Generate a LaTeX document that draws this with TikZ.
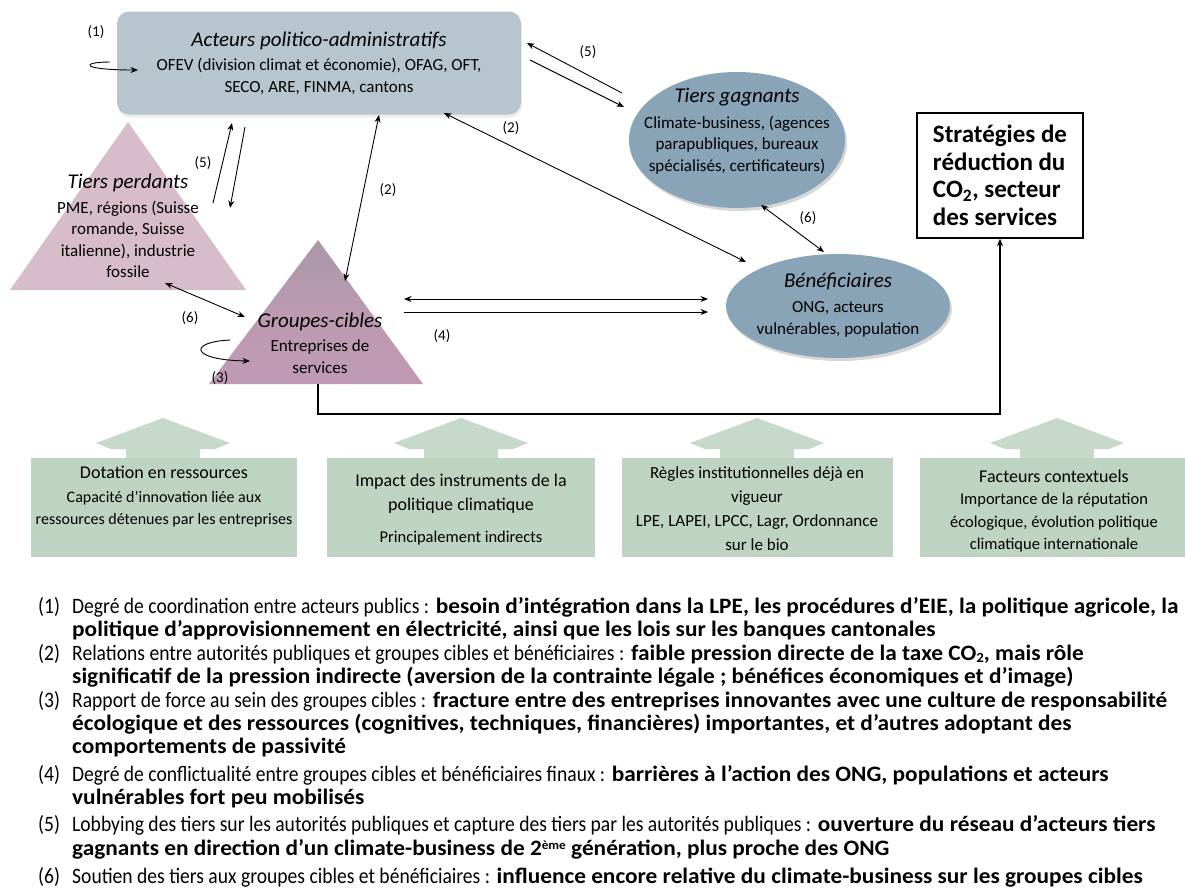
\documentclass[tikz,border=0pt]{standalone}
\usepackage{fontspec}
\setmainfont{Carlito}
\newfontfamily\cond[FakeStretch=0.89]{Carlito}
\newfontfamily\wide[FakeStretch=1.06]{Carlito}
\usetikzlibrary{shapes.geometric,shadows,arrows.meta}

\definecolor{actfill}{RGB}{183,198,206}
\definecolor{ellfill}{RGB}{136,164,182}
\definecolor{perdfill}{RGB}{215,189,201}
\definecolor{grpfill}{RGB}{192,154,180}
\definecolor{grptop}{RGB}{170,152,168}
\definecolor{grnbox}{RGB}{191,211,195}
\definecolor{grnarr}{RGB}{199,217,203}

\newcommand\Ftitle{\fontsize{21}{24}\selectfont\itshape}
\newcommand\Fbody{\fontsize{17}{21.5}\selectfont}
\newcommand\Fleg{\fontsize{22}{23}\selectfont}
\newcommand\Bd{\wide\bfseries}
\newcommand\subtwo{\raisebox{-2.5pt}{\fontsize{14}{14}\selectfont 2}}
\newcommand\supeme{\raisebox{5.5pt}{\fontsize{12.5}{12.5}\selectfont ème}}

\tikzset{
  tip/.tip={Stealth[length=7.5pt,width=6pt]},
  con/.style={line width=0.9pt,-tip},
  dcon/.style={line width=0.9pt,tip-tip},
  lbl/.style={inner sep=0pt,font=\fontsize{15}{17}\selectfont},
  txt/.style={align=center,inner sep=0pt,font=\Fbody},
  ellnode/.style={ellipse,fill=ellfill,inner sep=0pt,
    drop shadow={opacity=0.3,shadow xshift=2pt,shadow yshift=-3pt}},
  gbox/.style={rectangle,fill=grnbox,inner sep=0pt},
  leg/.style={anchor=base west,inner sep=0pt,font=\Fleg},
}

\begin{document}
\begin{tikzpicture}[x=1pt,y=-1pt]
\useasboundingbox (0,0) rectangle (1185,892);
\fill[white] (0,0) rectangle (1185,892);

% ---------- main shapes ----------
\node[fill=actfill,rounded corners=12pt,minimum width=404pt,minimum height=103pt,
      inner sep=0pt,align=center,font=\Fbody,
      drop shadow={opacity=0.15,shadow xshift=1pt,shadow yshift=-3pt}] (acteurs) at (319,63)
  {{\Ftitle Acteurs politico-administratifs}\\[3pt]
   OFEV (division climat et économie), OFAG, OFT,\\ SECO, ARE, FINMA, cantons};

\node[ellnode,minimum width=216pt,minimum height=136pt] (gagnants) at (737,140) {};
\node[txt] (gagnantsT) at (737,131)
  {{\Ftitle Tiers gagnants}\\[4pt] Climate-business, (agences\\ parapubliques, bureaux\\ spécialisés, certificateurs)};

\node[ellnode,minimum width=224pt,minimum height=104pt] (benef) at (838,306) {};
\node[txt] (benefT) at (838,305)
  {{\Ftitle Bénéficiaires}\\[4pt] ONG, acteurs\\ vulnérables, population};

\node[draw,line width=1.3pt,minimum width=166pt,minimum height=125pt,inner sep=0pt,
      align=left,font=\bfseries\fontsize{25}{27.5}\selectfont] (strat) at (1000,175.5)
  {Stratégies de\\ réduction du\\ CO\textsubscript{2}, secteur\\ des services};

% triangles
\coordinate (perdApex) at (128,122);
\coordinate (perdR) at (246,290);
\coordinate (perdL) at (10,290);
\fill[perdfill] (perdApex) -- (perdR) -- (perdL) -- cycle;
\node[txt] (perdT) at (128,226)
  {{\Ftitle Tiers perdants}\\[3pt] PME, régions (Suisse\\ romande, Suisse\\ italienne), industrie\\ fossile};

\coordinate (grpApex) at (318,240);
\coordinate (grpR) at (423,384);
\coordinate (grpL) at (209,384);
\coordinate (grpBase) at (318,384);
\shade[top color=grptop,bottom color=grpfill,middle color=grpfill!80!grptop]
  (grpApex) -- (grpR) -- (grpL) -- cycle;
\node[txt] (grpT) at (320,343)
  {{\Ftitle Groupes-cibles}\\[3pt] Entreprises de\\ services};

% ---------- connectors ----------
\coordinate (r5a) at (622,93);  \coordinate (r5aE) at (527,43);
\coordinate (r5b) at (530,60);  \coordinate (r5bE) at (624,107);
\draw[con] (r5a) -- (r5aE);
\draw[con] (r5b) -- (r5bE);

\coordinate (r2a) at (444,113); \coordinate (r2b) at (746,262);
\draw[dcon] (r2a) -- (r2b);

\coordinate (r6a) at (761,205); \coordinate (r6b) at (824,252);
\draw[dcon] (r6a) -- (r6b);

\coordinate (l5a) at (213,203); \coordinate (l5aE) at (232,123);
\coordinate (l5b) at (245,127); \coordinate (l5bE) at (230,208);
\draw[con] (l5a) -- (l5aE);
\draw[con] (l5b) -- (l5bE);

\coordinate (m2a) at (379,115); \coordinate (m2b) at (345,281);
\draw[dcon] (m2a) -- (m2b);

\coordinate (l6a) at (165,283); \coordinate (l6b) at (245,317);
\draw[dcon] (l6a) -- (l6b);

\coordinate (h4a) at (404,299); \coordinate (h4aE) at (708,299);
\coordinate (h4b) at (404,312); \coordinate (h4bE) at (708,312);
\draw[dcon] (h4a) -- (h4aE);
\draw[con] (h4b) -- (h4bE);

\draw[line width=1.2pt,-tip] (grpBase) -- (318,414) -| (strat.south);

% curls
\coordinate (c1a) at (110,62); \coordinate (c1b) at (138,70);
\draw[con] (c1a) .. controls (80,62) and (80,70) .. (c1b);
\coordinate (c3a) at (230,340); \coordinate (c3b) at (250,361);
\draw[con] (c3a) .. controls (188,342) and (190,360) .. (c3b);

% labels
\node[lbl] (n1) at (96,32) {(1)};
\node[lbl] (n5r) at (588,52) {(5)};
\node[lbl] (n2r) at (511,128) {(2)};
\node[lbl] (n5l) at (203,163) {(5)};
\node[lbl] (n2m) at (388,190) {(2)};
\node[lbl] (n6r) at (808,218) {(6)};
\node[lbl] (n6l) at (190,318) {(6)};
\node[lbl] (n3) at (220,378) {(3)};
\node[lbl] (n4) at (442,336) {(4)};

% ---------- green factor boxes ----------
\foreach \cx in {163,461,757,1057}{
  \fill[grnarr] (\cx,418) -- (\cx+67,443) -- (\cx+52,449) -- (\cx+37,449) -- (\cx+37,459)
     -- (\cx-37,459) -- (\cx-37,449) -- (\cx-52,449) -- (\cx-67,443) -- cycle;
}
\node[gbox,minimum width=266pt,minimum height=99pt] (box1) at (164,507.5) {};
\node[gbox,minimum width=268pt,minimum height=99pt] (box2) at (461,507.5) {};
\node[gbox,minimum width=271pt,minimum height=99pt] (box3) at (757.5,507.5) {};
\node[gbox,minimum width=265pt,minimum height=99pt] (box4) at (1052.5,507.5) {};

\node[txt,font=\fontsize{16}{22}\selectfont] (box1T) at (164,497)
  {{\fontsize{18}{22}\selectfont Dotation en ressources}\\[2pt] Capacité d’innovation liée aux\\ ressources détenues par les entreprises};
\node[txt,font=\fontsize{18}{24}\selectfont] (box2T) at (461,510)
  {Impact des instruments de la\\ politique climatique\\[8pt] {\fontsize{16.5}{22}\selectfont Principalement indirects}};
\node[txt,font=\fontsize{17}{24}\selectfont] (box3T) at (757,509)
  {Règles institutionnelles déjà en\\ vigueur\\ LPE, LAPEI, LPCC, Lagr, Ordonnance\\ sur le bio};
\node[txt,font=\fontsize{16.5}{22.5}\selectfont] (box4T) at (1054,511)
  {{\fontsize{18}{22}\selectfont Facteurs contextuels}\\ Importance de la réputation\\ écologique, évolution politique\\ climatique internationale};

% ---------- legend ----------
\node[leg] (k1) at (38,613) {\cond(1)};
\node[leg] (k1a) at (72,613) {{\cond Degré de coordination entre acteurs publics :} {\Bd besoin d’intégration dans la LPE, les procédures d’EIE, la politique agricole, la}};
\node[leg] (k1b) at (72,636) {\Bd politique d’approvisionnement en électricité, ainsi que les lois sur les banques cantonales};
\node[leg] (k2) at (38,660) {\cond(2)};
\node[leg] (k2a) at (72,660) {{\cond Relations entre autorités publiques et groupes cibles et bénéficiaires :} {\Bd faible pression directe de la taxe CO\subtwo, mais rôle}};
\node[leg] (k2b) at (72,683) {\Bd significatif de la pression indirecte (aversion de la contrainte légale ; bénéfices économiques et d’image)};
\node[leg] (k3) at (38,707) {\cond(3)};
\node[leg] (k3a) at (72,707) {{\cond Rapport de force au sein des groupes cibles :} {\Bd fracture entre des entreprises innovantes avec une culture de responsabilité}};
\node[leg] (k3b) at (72,730) {\Bd écologique et des ressources (cognitives, techniques, financières) importantes, et d’autres adoptant des};
\node[leg] (k3c) at (72,753) {\Bd comportements de passivité};
\node[leg] (k4) at (38,781) {\cond(4)};
\node[leg] (k4a) at (72,781) {{\cond Degré de conflictualité entre groupes cibles et bénéficiaires finaux :} {\Bd barrières à l’action des ONG, populations et acteurs}};
\node[leg] (k4b) at (72,804) {\Bd vulnérables fort peu mobilisés};
\node[leg] (k5) at (38,831) {\cond(5)};
\node[leg] (k5a) at (72,831) {{\cond Lobbying des tiers sur les autorités publiques et capture des tiers par les autorités publiques :} {\Bd ouverture du réseau d’acteurs tiers}};
\node[leg] (k5b) at (72,855) {\Bd gagnants en direction d’un climate-business de 2\supeme{} génération, plus proche des ONG};
\node[leg] (k6) at (38,883) {\cond(6)};
\node[leg] (k6a) at (72,883) {{\cond Soutien des tiers aux groupes cibles et bénéficiaires :} {\Bd influence encore relative du climate-business sur les groupes cibles}};
\end{tikzpicture}
\end{document}
